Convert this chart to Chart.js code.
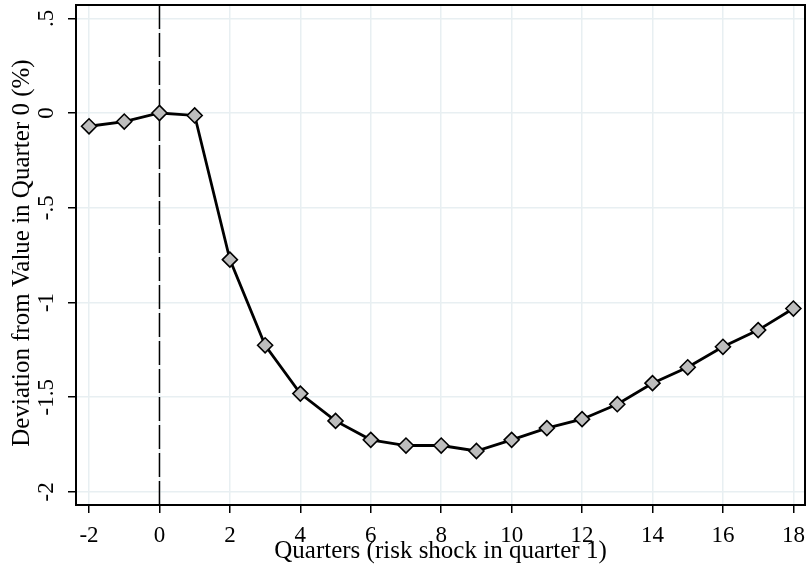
<!DOCTYPE html>
<html>
<head>
<meta charset="utf-8">
<script src="https://cdn.jsdelivr.net/npm/chart.js@4/dist/chart.umd.min.js"></script>
<style>
  html, body { margin: 0; padding: 0; background: #fff; overflow: hidden; }
  #wrap { width: 807px; height: 578px; overflow: hidden; }
  canvas { display: block; }
</style>
</head>
<body>
<div id="wrap"><canvas id="c" width="807" height="578"></canvas></div>
<script>
// ---- data ----
const quarters = [-2, -1, 0, 1, 2, 3, 4, 5, 6, 7, 8, 9, 10, 11, 12, 13, 14, 15, 16, 17, 18];
const deviation = [-0.07, -0.045, 0, -0.013, -0.774, -1.226, -1.481, -1.625, -1.725, -1.755, -1.755, -1.784, -1.725, -1.663, -1.616, -1.537, -1.426, -1.342, -1.234, -1.146, -1.032];
const xTicks = [-2, 0, 2, 4, 6, 8, 10, 12, 14, 16, 18];
const xTickLabels = ['-2', '0', '2', '4', '6', '8', '10', '12', '14', '16', '18'];
const yTicks = [0.5, 0, -0.5, -1, -1.5, -2];
const yTickLabels = ['.5', '0', '-.5', '-1', '-1.5', '-2'];
const shockLine = 0;
const xTitle = 'Quarters (risk shock in quarter 1)';
const yTitle = 'Deviation from Value in Quarter 0 (%)';

const FONT = '"Liberation Serif", "Times New Roman", serif';

const decor = {
  id: 'decor',
  beforeDatasetsDraw(chart) {
    const {ctx, chartArea: a, scales: {x}} = chart;
    ctx.save();
    // dashed vertical reference line at the shock quarter
    const px = x.getPixelForValue(shockLine);
    ctx.strokeStyle = '#000';
    ctx.lineWidth = 1.5;
    ctx.setLineDash([24, 4]);
    ctx.beginPath();
    ctx.moveTo(px, a.top);
    ctx.lineTo(px, a.bottom);
    ctx.stroke();
    ctx.setLineDash([]);
    // plot frame
    ctx.lineWidth = 2;
    ctx.strokeRect(a.left, a.top, a.right - a.left, a.bottom - a.top);
    ctx.restore();
  },
  afterDraw(chart) {
    const {ctx, chartArea: a, scales: {x, y}} = chart;
    ctx.save();
    ctx.fillStyle = '#000';
    ctx.font = '23px ' + FONT;
    ctx.textAlign = 'center';
    ctx.textBaseline = 'alphabetic';
    // x tick labels
    x.ticks.forEach((t, i) => {
      ctx.fillText(xTickLabels[i], x.getPixelForValue(t.value), 542);
    });
    // y tick labels, rotated
    y.ticks.forEach((t, i) => {
      ctx.save();
      ctx.translate(53, y.getPixelForValue(t.value));
      ctx.rotate(-Math.PI / 2);
      ctx.fillText(yTickLabels[i], 0, 0);
      ctx.restore();
    });
    // axis titles
    ctx.font = '25px ' + FONT;
    ctx.fillText(xTitle, (a.left + a.right) / 2, 558);
    ctx.save();
    ctx.translate(28.5, 253);
    ctx.rotate(-Math.PI / 2);
    ctx.fillText(yTitle, 0, 0);
    ctx.restore();
    ctx.restore();
  }
};

const gridCommon = {
  color: '#e8eff2',
  lineWidth: 1.5,
  drawTicks: true,
  tickLength: 8,
  tickColor: '#000',
  tickWidth: 1.5
};

new Chart(document.getElementById('c'), {
  type: 'line',
  data: {
    datasets: [{
      data: quarters.map((q, i) => ({x: q, y: deviation[i]})),
      borderColor: '#000',
      borderWidth: 2.8,
      pointStyle: 'rectRot',
      pointRadius: 7.5,
      pointHoverRadius: 7.5,
      pointBackgroundColor: '#bdbdbd',
      pointBorderColor: '#000',
      pointBorderWidth: 1.6,
      tension: 0,
      fill: false
    }]
  },
  options: {
    responsive: false,
    animation: false,
    devicePixelRatio: 1,
    layout: { autoPadding: false, padding: { left: 0, right: 2, top: 5, bottom: 0 } },
    plugins: { legend: { display: false }, tooltip: { enabled: false } },
    scales: {
      x: {
        type: 'linear',
        min: -2.37,
        max: 18.33,
        afterBuildTicks: (s) => { s.ticks = xTicks.map(v => ({value: v})); },
        afterFit: (s) => { s.height = 73; },
        ticks: { display: false },
        grid: gridCommon,
        border: { display: true, color: '#000', width: 2 }
      },
      y: {
        type: 'linear',
        min: -2.069,
        max: 0.570,
        afterBuildTicks: (s) => { s.ticks = yTicks.map(v => ({value: v})); },
        afterFit: (s) => { s.width = 76; },
        ticks: { display: false },
        grid: gridCommon,
        border: { display: true, color: '#000', width: 2 }
      }
    }
  },
  plugins: [decor]
});
</script>
</body>
</html>
